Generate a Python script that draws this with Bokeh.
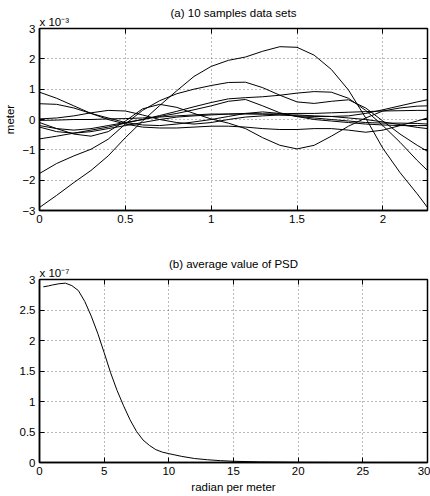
from bokeh.plotting import figure
from bokeh.models import Range1d, FixedTicker, LinearAxis, Title
from bokeh.layouts import column
from bokeh.embed import file_html
from bokeh.resources import INLINE

# ---------------- data ----------------
sample_x = [0.0, 0.1, 0.2, 0.3, 0.4, 0.5, 0.6, 0.7, 0.8, 0.9, 1.0, 1.1,
            1.2, 1.3, 1.4, 1.5, 1.6, 1.7, 1.8, 1.9, 2.0, 2.1, 2.2, 2.26]
# values in units of 1e-3 meter
sample_1 = [-2.9, -2.5, -2.08, -1.68, -1.2, -0.6, -0.05, 0.46, 0.95, 1.42, 1.75, 1.95,
            2.06, 2.25, 2.4, 2.38, 2.12, 1.65, 0.97, 0.05, -0.95, -1.75, -2.45, -2.9]
sample_2 = [-1.78, -1.45, -1.2, -0.98, -0.65, -0.15, 0.3, 0.62, 0.85, 1.0, 1.12, 1.22,
            1.23, 1.05, 0.8, 0.58, 0.53, 0.6, 0.65, 0.38, -0.05, -0.48, -0.85, -1.05]
sample_3 = [-0.64, -0.55, -0.45, -0.35, -0.25, -0.12, 0.0, 0.13, 0.27, 0.42, 0.56, 0.68,
            0.72, 0.75, 0.8, 0.87, 0.92, 0.9, 0.7, 0.3, -0.2, -0.75, -1.35, -1.68]
sample_4 = [-0.1, -0.3, -0.48, -0.55, -0.4, -0.05, 0.35, 0.5, 0.4, 0.2, 0.02, -0.12,
            -0.3, -0.6, -0.85, -0.97, -0.85, -0.55, -0.22, 0.05, 0.28, 0.38, 0.44, 0.45]
sample_5 = [0.9, 0.7, 0.45, 0.2, 0.0, -0.15, -0.25, -0.28, -0.28, -0.25, -0.22, -0.22,
            -0.25, -0.3, -0.33, -0.33, -0.3, -0.3, -0.35, -0.42, -0.35, -0.2, -0.05, 0.05]
sample_6 = [0.52, 0.5, 0.38, 0.2, 0.05, -0.1, -0.18, -0.2, -0.15, -0.08, 0.0, 0.1,
            0.2, 0.25, 0.2, 0.1, 0.0, -0.05, -0.1, -0.15, -0.18, -0.2, -0.2, -0.2]
sample_7 = [0.02, 0.05, 0.12, 0.22, 0.3, 0.28, 0.15, 0.0, -0.1, -0.15, -0.1, 0.0,
            0.08, 0.12, 0.15, 0.15, 0.12, 0.1, 0.05, 0.0, -0.08, -0.17, -0.26, -0.3]
sample_8 = [-0.25, -0.4, -0.45, -0.4, -0.3, -0.2, -0.1, 0.0, 0.08, 0.12, 0.15, 0.18,
            0.2, 0.18, 0.15, 0.12, 0.1, 0.1, 0.12, 0.2, 0.32, 0.45, 0.58, 0.65]
sample_9 = [-0.2, -0.3, -0.35, -0.3, -0.2, -0.1, 0.0, 0.1, 0.2, 0.32, 0.45, 0.6,
            0.66, 0.45, 0.22, 0.1, 0.05, 0.0, -0.05, -0.1, -0.12, -0.12, -0.13, -0.15]
sample_10 = [-0.03, -0.02, 0.0, 0.0, 0.02, 0.03, 0.05, 0.08, 0.12, 0.15, 0.18, 0.18,
             0.18, 0.18, 0.19, 0.2, 0.2, 0.22, 0.24, 0.26, 0.28, 0.29, 0.3, 0.3]
samples = [sample_1, sample_2, sample_3, sample_4, sample_5,
           sample_6, sample_7, sample_8, sample_9, sample_10]

# PSD, values in units of 1e-7
psd_x = [0.3, 0.7, 1, 1.5, 2, 2.5, 3, 3.5, 4, 4.5, 5, 5.5, 6, 6.5, 7, 7.5, 8, 8.5,
         9, 9.5, 10, 11, 12, 13, 14, 15, 17, 20, 25, 30]
psd_y = [2.88, 2.895, 2.91, 2.93, 2.94, 2.9, 2.82, 2.64, 2.4, 2.12, 1.8, 1.47, 1.18,
         0.93, 0.7, 0.51, 0.37, 0.28, 0.21, 0.17, 0.145, 0.1, 0.065, 0.045, 0.03,
         0.02, 0.01, 0.004, 0.001, 0.0]

top_xticks = [0, 0.5, 1, 1.5, 2]
top_xlabels = ["0", "0.5", "1", "1.5", "2"]
top_yticks = [-3, -2, -1, 0, 1, 2, 3]
top_ylabels = ["\u22123", "\u22122", "\u22121", "0", "1", "2", "3"]
bot_xticks = [0, 5, 10, 15, 20, 25, 30]
bot_xlabels = ["0", "5", "10", "15", "20", "25", "30"]
bot_yticks = [0, 0.5, 1, 1.5, 2, 2.5, 3]
bot_ylabels = ["0", "0.5", "1", "1.5", "2", "2.5", "3"]

FONT = "Liberation Sans"
FS = "11.5px"


def make_title(text, align, standoff):
    try:
        return Title(text=text, align=align, text_font=FONT, text_font_size=FS,
                     text_font_style="normal", text_color="black", standoff=standoff)
    except Exception:
        return Title(text=text, align=align, text_font=FONT, text_font_size=FS,
                     text_font_style="normal", text_color="black", standoff=0)


def style(p, xt, xl, yt, yl, title, exp_text):
    p.outline_line_color = "black"
    p.outline_line_width = 1.5
    p.background_fill_color = "white"
    p.border_fill_color = "white"
    for ax in p.below + p.left:
        ax.major_tick_in = 5
        ax.major_tick_out = 0
        ax.minor_tick_line_color = None
        ax.axis_line_color = "black"
        ax.axis_line_width = 1.5
        ax.major_tick_line_color = "black"
        ax.major_label_text_font = FONT
        ax.major_label_text_font_size = FS
        ax.major_label_text_color = "black"
        ax.axis_label_text_font = FONT
        ax.axis_label_text_font_size = FS
        ax.axis_label_text_font_style = "normal"
        ax.axis_label_text_color = "black"
    bx = p.below[0]
    ly = p.left[0]
    bx.ticker = FixedTicker(ticks=xt)
    ly.ticker = FixedTicker(ticks=yt)
    bx.major_label_overrides = {t: s for t, s in zip(xt, xl)}
    ly.major_label_overrides = {t: s for t, s in zip(yt, yl)}
    bx.major_label_standoff = 4
    ly.major_label_standoff = 4
    ly.axis_label_standoff = 3
    bx.axis_label_standoff = 3
    p.xgrid.ticker = FixedTicker(ticks=xt)
    p.ygrid.ticker = FixedTicker(ticks=yt)
    for g in (p.xgrid, p.ygrid):
        g.grid_line_color = "#555555"
        g.grid_line_alpha = 0.8
        g.grid_line_dash = "1 3"
        g.grid_line_width = 1
    # MATLAB-like inward ticks on top and right (no labels)
    top = LinearAxis(ticker=FixedTicker(ticks=xt),
                     major_label_overrides={t: "" for t in xt},
                     major_label_text_font_size="1px",
                     major_label_standoff=0, major_tick_in=5, major_tick_out=0,
                     major_tick_line_color="black",
                     minor_tick_line_color=None, axis_line_color=None)
    right = LinearAxis(ticker=FixedTicker(ticks=yt),
                       major_label_overrides={t: "" for t in yt},
                       major_label_text_font_size="1px",
                       major_label_standoff=0, major_tick_in=5, major_tick_out=0,
                       major_tick_line_color="black",
                       minor_tick_line_color=None, axis_line_color=None)
    p.add_layout(top, "above")
    p.add_layout(right, "right")
    # exponent row (closest to frame) then main title pulled down onto same row
    p.add_layout(make_title(exp_text, "left", 2), "above")
    p.add_layout(make_title(title, "center", -12), "above")


p1 = figure(width=430, height=248, output_backend="svg", toolbar_location=None,
            x_range=Range1d(0, 2.26), y_range=Range1d(-3, 3),
            min_border_left=39, min_border_right=3, min_border_top=28,
            min_border_bottom=38)
style(p1, top_xticks, top_xlabels, top_yticks, top_ylabels,
      "(a) 10 samples data sets", "x 10\u207b\u00b3")
p1.left[0].axis_label = "meter"
for s in samples:
    p1.line(sample_x, s, line_color="black", line_width=1)

p2 = figure(width=430, height=248, output_backend="svg", toolbar_location=None,
            x_range=Range1d(0, 30), y_range=Range1d(0, 3),
            min_border_left=39, min_border_right=3, min_border_top=31,
            min_border_bottom=34)
style(p2, bot_xticks, bot_xlabels, bot_yticks, bot_ylabels,
      "(b) average value of PSD", "x 10\u207b\u2077")
p2.below[0].axis_label = "radian per meter"
p2.line(psd_x, psd_y, line_color="black", line_width=1)

layout = column(p1, p2, spacing=0)
open("out.html", "w").write(file_html(layout, INLINE))
